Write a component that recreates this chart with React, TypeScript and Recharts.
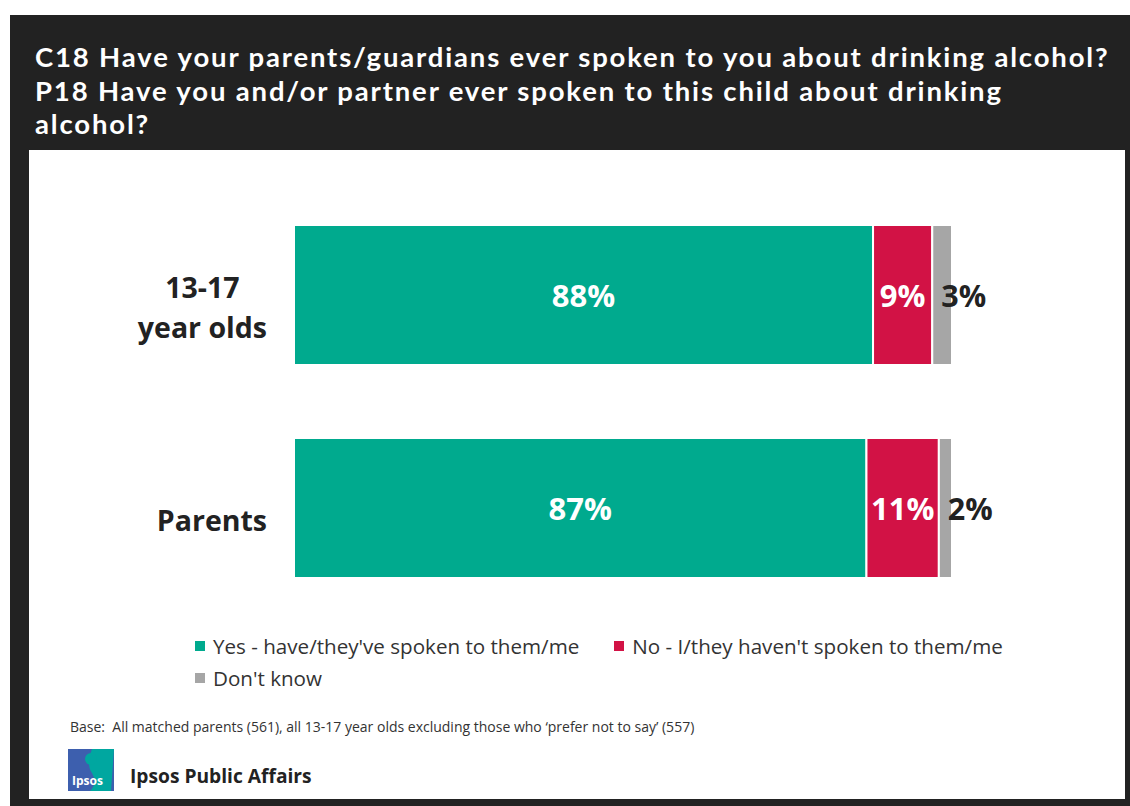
import React from 'react';
import { BarChart, Bar, XAxis, YAxis, LabelList } from 'recharts';

const titleLines = [
  'C18 Have your parents/guardians ever spoken to you about drinking alcohol?',
  'P18 Have you and/or partner ever spoken to this child about drinking',
  'alcohol?',
];
const categories = ['13-17\nyear olds', 'Parents'];
const yesValues = [88, 87];
const noValues = [9, 11];
const dkValues = [3, 2];
const seriesNames = [
  "Yes - have/they've spoken to them/me",
  "No - I/they haven't spoken to them/me",
  "Don't know",
];
const colors = ['#00AA8E', '#D21245', '#A6A6A6'];
const baseNote =
  'Base:  All matched parents (561), all 13-17 year olds excluding those who \u2018prefer not to say\u2019 (557)';

const FONT = '"Open Sans", "Noto Sans", sans-serif';
const TITLE_FONT = 'Lato, "Open Sans", sans-serif';
const CAT_FONT = `700 28.5px ${FONT}`;

const data = categories.map((name, i) => ({
  name,
  yes: yesValues[i],
  no: noValues[i],
  dk: dkValues[i],
}));

let measureCtx: CanvasRenderingContext2D | null = null;
function textWidth(s: string, font: string) {
  if (!measureCtx) measureCtx = document.createElement('canvas').getContext('2d');
  if (!measureCtx) return s.length * 15;
  measureCtx.font = font;
  return measureCtx.measureText(s).width;
}

// right-aligned block, lines centred within it
function CategoryTick(props: any) {
  const { x, y, payload } = props;
  const lines: string[] = String(payload.value).split('\n');
  const lh = 40;
  const widest = Math.max(...lines.map((l) => textWidth(l, CAT_FONT)));
  const cx = x - widest / 2;
  const start = y - ((lines.length - 1) * lh) / 2 + 23;
  return (
    <text textAnchor="middle" fill="#222" fontSize={28.5} fontWeight={700} fontFamily={FONT}>
      {lines.map((l, i) => (
        <tspan key={i} x={cx} y={start + i * lh}>
          {l}
        </tspan>
      ))}
    </text>
  );
}

function inside(props: any) {
  const { x, y, width, height, value } = props;
  return (
    <text
      x={x + width / 2}
      y={y + height / 2 + 12}
      textAnchor="middle"
      fill="#fff"
      fontSize={31}
      fontWeight={700}
      fontFamily={FONT}
    >
      {value}%
    </text>
  );
}

function outside(props: any) {
  const { x, y, height, value } = props;
  return (
    <text
      x={x + 9}
      y={y + height / 2 + 12}
      textAnchor="start"
      fill="#222"
      fontSize={30.5}
      fontWeight={700}
      fontFamily={FONT}
    >
      {value}%
    </text>
  );
}

function LegendItem({ color, label }: { color: string; label: string }) {
  return (
    <span style={{ display: 'inline-flex', alignItems: 'center', marginRight: 35 }}>
      <span style={{ width: 10, height: 10, background: color, marginRight: 8 }} />
      <span>{label}</span>
    </span>
  );
}

export default function App() {
  // stretch title so its first line spans the same width as the original
  const titleSize = 27.5;
  const natural = textWidth(titleLines[0], `700 ${titleSize}px ${TITLE_FONT}`);
  const spacing = Math.max(0, (1077 - natural) / titleLines[0].length);

  const rowStyle: React.CSSProperties = { height: 32, display: 'flex', alignItems: 'center' };

  return (
    <div
      style={{
        position: 'absolute',
        left: 0,
        top: 0,
        width: 1130,
        height: 806,
        background: '#fff',
        fontFamily: FONT,
        overflow: 'hidden',
      }}
    >
      {/* frame */}
      <div style={{ position: 'absolute', left: 10, top: 15, width: 1120, height: 791, background: '#222' }} />
      <div style={{ position: 'absolute', left: 29, top: 150, width: 1096, height: 649, background: '#fff' }} />

      <div
        style={{
          position: 'absolute',
          left: 35,
          top: 40,
          color: '#fff',
          fontFamily: TITLE_FONT,
          fontWeight: 700,
          fontSize: titleSize,
          letterSpacing: spacing,
          lineHeight: '33.5px',
          whiteSpace: 'nowrap',
        }}
      >
        {titleLines.map((t, i) => (
          <div key={i}>{t}</div>
        ))}
      </div>

      <div style={{ position: 'absolute', left: 0, top: 0 }}>
        <BarChart
          width={1130}
          height={806}
          data={data}
          layout="vertical"
          margin={{ top: 188.5, right: 178, bottom: 191.5, left: 34 }}
          barCategoryGap={36.5}
        >
          <XAxis type="number" domain={[0, 100]} hide />
          <YAxis
            type="category"
            dataKey="name"
            width={260}
            axisLine={false}
            tickLine={false}
            tickSize={0}
            tickMargin={27}
            tick={<CategoryTick />}
          />
          <Bar dataKey="yes" stackId="a" fill={colors[0]} stroke="#fff" strokeWidth={2} isAnimationActive={false}>
            <LabelList dataKey="yes" content={inside} />
          </Bar>
          <Bar dataKey="no" stackId="a" fill={colors[1]} stroke="#fff" strokeWidth={2} isAnimationActive={false}>
            <LabelList dataKey="no" content={inside} />
          </Bar>
          <Bar dataKey="dk" stackId="a" fill={colors[2]} stroke="#fff" strokeWidth={2} isAnimationActive={false}>
            <LabelList dataKey="dk" content={outside} />
          </Bar>
        </BarChart>
      </div>

      {/* legend */}
      <div
        style={{
          position: 'absolute',
          left: 195,
          top: 630,
          width: 900,
          fontSize: 20.6,
          color: '#333',
          lineHeight: '32px',
        }}
      >
        <div style={rowStyle}>
          <LegendItem color={colors[0]} label={seriesNames[0]} />
          <LegendItem color={colors[1]} label={seriesNames[1]} />
        </div>
        <div style={rowStyle}>
          <LegendItem color={colors[2]} label={seriesNames[2]} />
        </div>
      </div>

      <div style={{ position: 'absolute', left: 70, top: 717, fontSize: 14, color: '#333', whiteSpace: 'pre' }}>
        {baseNote}
      </div>

      {/* logo */}
      <svg style={{ position: 'absolute', left: 68, top: 749 }} width={46} height={42}>
        <rect x={0} y={0} width={46} height={42} fill="#3D5FAE" />
        <path d="M24 0 H46 L43 42 H22 Q30 34 24 24 Q18 16 24 0 Z" fill="#00A7A0" />
        <circle cx={23} cy={10} r={6} fill="#00A7A0" />
        <text x={4} y={36} fill="#fff" fontSize={12} fontWeight={700} fontFamily={FONT}>
          Ipsos
        </text>
      </svg>
      <div
        style={{
          position: 'absolute',
          left: 130,
          top: 762,
          fontSize: 19.2,
          fontWeight: 700,
          color: '#222',
          whiteSpace: 'nowrap',
        }}
      >
        Ipsos Public Affairs
      </div>
    </div>
  );
}
